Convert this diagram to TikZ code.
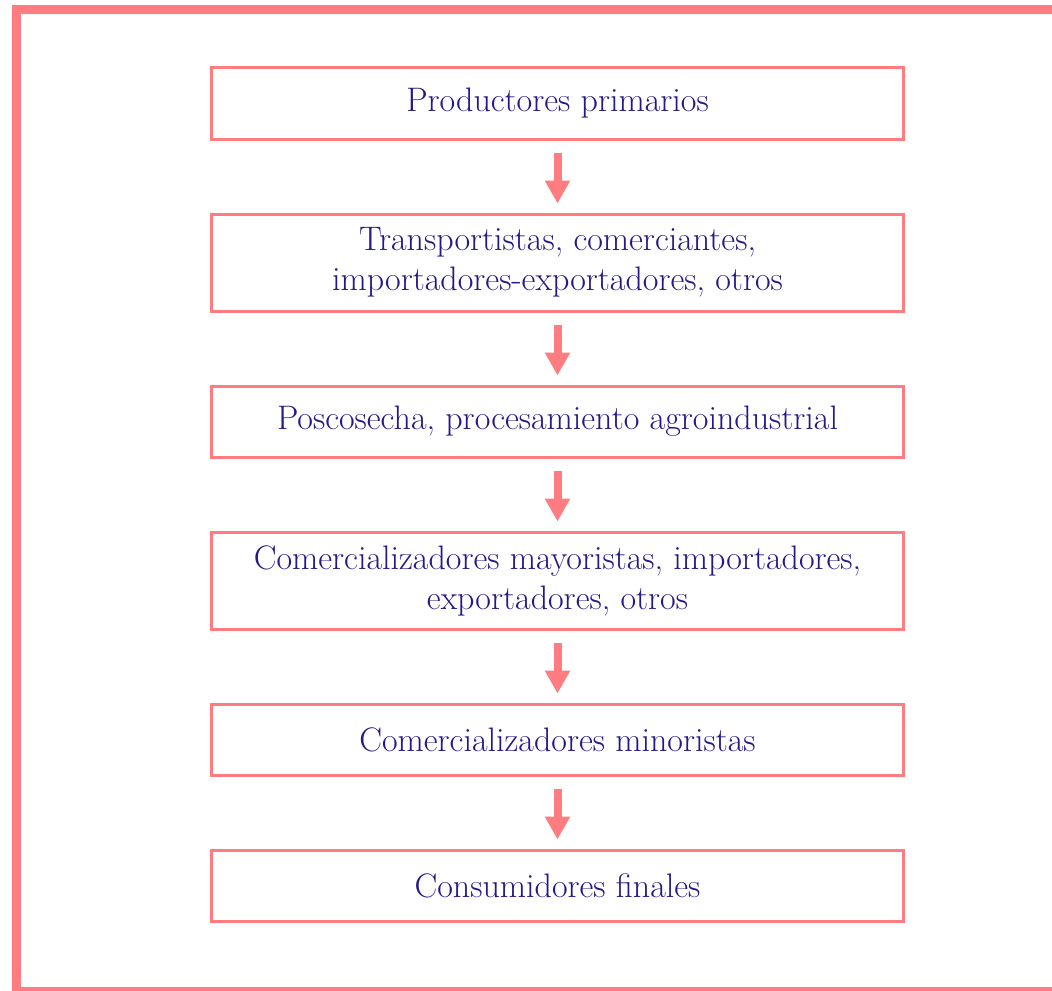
\documentclass[tikz,border=0pt]{standalone}
\usetikzlibrary{positioning, arrows.meta}
\definecolor{salmonline}{RGB}{255,125,128}
\definecolor{navytext}{RGB}{35,25,135}

\begin{document}
\begin{tikzpicture}[x=0.5pt, y=-0.5pt,
    chainbox/.style={draw=salmonline, line width=1.5pt, minimum width=346pt,
        minimum height=35.5pt, align=center, text=navytext,
        font=\fontsize{17}{20}\selectfont},
    tallbox/.style={chainbox, minimum height=48.5pt},
    flowarrow/.style={color=salmonline, line width=4pt,
        -{Triangle[width=12pt, length=11.5pt]}, shorten <=6pt, shorten >=4.5pt},
    node distance=36pt]
        \useasboundingbox (0,0) rectangle (1052,990);
        \clip (0,0) rectangle (1052,990);
        \draw[salmonline, line width=4.5pt] (16.5,9.5) rectangle (1080,991);
        \node (prod) [chainbox] at (557.5,103.5) {Productores primarios};
        \node (trans) [tallbox, below=of prod] {Transportistas, comerciantes,\\ importadores-exportadores, otros};
        \node (posc) [chainbox, below=of trans] {Poscosecha, procesamiento agroindustrial};
        \node (mayor) [tallbox, below=of posc] {Comercializadores mayoristas, importadores,\\ exportadores, otros};
        \node (minor) [chainbox, below=of mayor] {Comercializadores minoristas};
        \node (cons) [chainbox, below=of minor] {Consumidores finales};
        \path[flowarrow]
        (prod) edge (trans)
        (trans) edge (posc)
        (posc) edge (mayor)
        (mayor) edge (minor)
        (minor) edge (cons);
    \end{tikzpicture}
\end{document}
